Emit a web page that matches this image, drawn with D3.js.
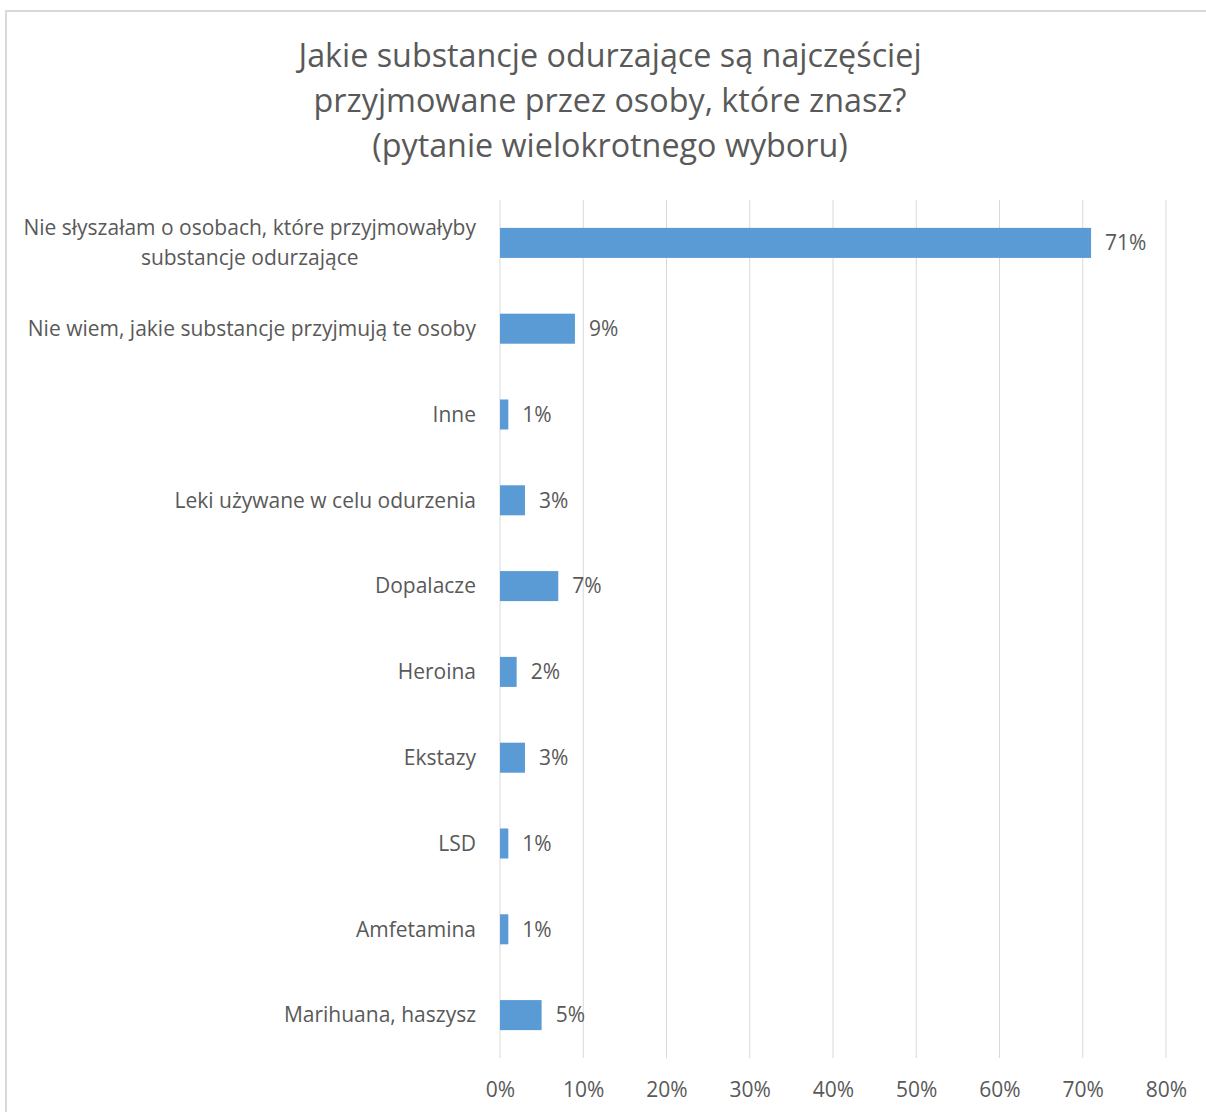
<!DOCTYPE html>
<html>
<head>
<meta charset="utf-8">
<script src="https://cdn.jsdelivr.net/npm/d3@7"></script>
<style>
  html, body { margin: 0; padding: 0; background: #fff; }
  svg { display: block; font-family: "Open Sans", Lato, sans-serif; }
</style>
</head>
<body>
<svg id="chart" width="1206" height="1112"></svg>
<script>
// Survey answers, top to bottom
const categories = [
  ["Nie słyszałam o osobach, które przyjmowałyby", "substancje odurzające"],
  ["Nie wiem, jakie substancje przyjmują te osoby"],
  ["Inne"],
  ["Leki używane w celu odurzenia"],
  ["Dopalacze"],
  ["Heroina"],
  ["Ekstazy"],
  ["LSD"],
  ["Amfetamina"],
  ["Marihuana, haszysz"]
];
const values = [71, 9, 1, 3, 7, 2, 3, 1, 1, 5];
const tickValues = [0, 10, 20, 30, 40, 50, 60, 70, 80];
const titleLines = [
  "Jakie substancje odurzające są najczęściej",
  "przyjmowane przez osoby, które znasz?",
  "(pytanie wielokrotnego wyboru)"
];

const svg = d3.select("#chart");
const textColor = "#595959";
const fontFamily = "'Open Sans', Lato, sans-serif";

// chart frame
svg.append("rect")
  .attr("x", 6).attr("y", 11)
  .attr("width", 1206).attr("height", 1112)
  .attr("fill", "#fff")
  .attr("stroke", "#d9d9d9").attr("stroke-width", 2);

// title
svg.append("g").selectAll("text")
  .data(titleLines)
  .join("text")
  .attr("x", 610)
  .attr("y", (d, i) => 67 + i * 45)
  .attr("text-anchor", "middle")
  .attr("fill", textColor)
  .style("font-size", "32.3px")
  .text(d => d);

const plotLeft = 500, plotRight = 1166, plotTop = 200, plotBottom = 1058;

const x = d3.scaleLinear().domain([0, 80]).range([plotLeft, plotRight]);
const y = d3.scaleBand()
  .domain(d3.range(categories.length))
  .range([plotTop, plotBottom])
  .paddingInner(0.65)
  .paddingOuter(0.325);

// vertical gridlines
svg.append("g").selectAll("line")
  .data(tickValues)
  .join("line")
  .attr("x1", d => x(d)).attr("x2", d => x(d))
  .attr("y1", plotTop).attr("y2", plotBottom)
  .attr("stroke", "#d9d9d9").attr("stroke-width", 1);

// x axis labels
const xAxis = d3.axisBottom(x)
  .tickValues(tickValues)
  .tickFormat(d => d + "%")
  .tickSize(0)
  .tickPadding(0);
const gx = svg.append("g")
  .attr("transform", `translate(0,${1097})`)
  .call(xAxis);
gx.select(".domain").remove();
gx.selectAll("text")
  .attr("dy", 0)
  .attr("fill", textColor)
  .style("font-family", fontFamily)
  .style("font-size", "21px");

// bars
svg.append("g").selectAll("rect")
  .data(values)
  .join("rect")
  .attr("x", x(0))
  .attr("y", (d, i) => y(i))
  .attr("width", d => x(d) - x(0))
  .attr("height", y.bandwidth())
  .attr("fill", "#5b9bd5");

// value labels
svg.append("g").selectAll("text")
  .data(values)
  .join("text")
  .attr("x", d => x(d) + 14)
  .attr("y", (d, i) => y(i) + y.bandwidth() / 2)
  .attr("dy", "0.35em")
  .attr("fill", textColor)
  .style("font-size", "21px")
  .text(d => d + "%");

// category labels (right-aligned; wrapped labels are centred on their longest line)
const catG = svg.append("g").selectAll("text")
  .data(categories)
  .join("text")
  .attr("text-anchor", "end")
  .attr("fill", textColor)
  .style("font-size", "21px")
  .attr("transform", (d, i) => {
    const cy = y(i) + y.bandwidth() / 2;
    return `translate(${plotLeft - 24},${cy - (d.length - 1) * 15})`;
  });
catG.selectAll("tspan")
  .data(d => d)
  .join("tspan")
  .attr("x", 0)
  .attr("dy", (d, i) => i === 0 ? "0.35em" : "30px")
  .text(d => d);

catG.each(function(d) {
  if (d.length > 1) {
    const t = d3.select(this);
    const spans = t.selectAll("tspan").nodes();
    const maxW = d3.max(spans, s => s.getComputedTextLength());
    t.attr("text-anchor", "middle");
    spans.forEach(s => s.setAttribute("x", -maxW / 2));
  }
});
</script>
</body>
</html>
